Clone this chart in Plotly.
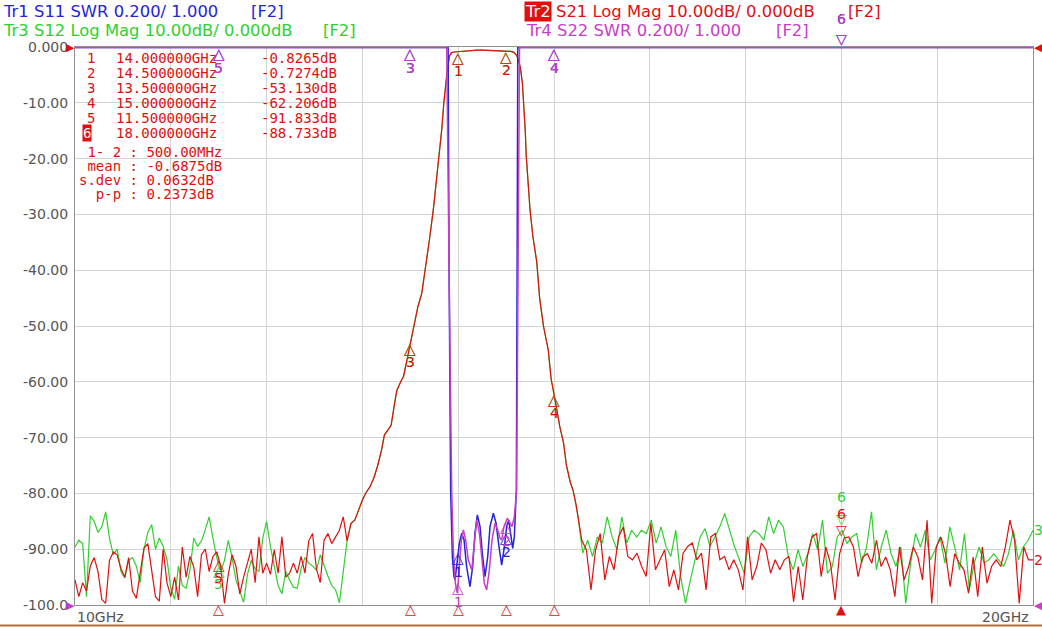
import numpy as np
import plotly.graph_objects as go

# ---- values ----
# noise floor below the passband, 10.00 .. 12.80 GHz (dB)
s21_left = [-95.5, -98.5, -96.0, -97.5, -93.0, -91.5, -94.0, -99.0, -99.7, -92.0,
            -90.5, -91.0, -93.5, -95.0, -91.5, -97.5, -98.8, -94.0, -89.8, -89.0,
            -93.5, -98.5, -99.3, -90.0, -96.0, -98.5, -95.0, -99.1, -89.6, -95.0,
            -91.3, -93.2, -98.5, -91.0, -90.0, -94.0, -91.3, -90.5, -93.0, -99.7,
            -94.5, -91.0, -93.0, -98.0, -95.0, -92.5, -90.0, -96.0, -87.8, -94.3,
            -92.5, -94.5, -90.1, -94.3, -87.8, -95.0, -94.3, -92.5, -94.3, -91.3,
            -94.3, -88.5, -87.2, -93.5, -96.0, -88.4, -87.2, -89.0, -87.8, -86.6,
            -84.2]
s12_left = [-89.6, -88.4, -89.0, -98.5, -84.0, -85.0, -87.0, -86.0, -83.3, -88.0,
            -91.0, -90.0, -94.0, -95.2, -92.0, -91.5, -93.0, -96.0, -90.0, -87.0,
            -85.6, -90.0, -88.0, -89.5, -91.8, -97.0, -99.0, -93.0, -96.5, -97.0,
            -93.7, -88.0, -89.5, -88.5, -86.5, -84.2, -88.0, -91.5, -94.0, -92.0,
            -88.4, -91.5, -95.5, -97.5, -99.5, -94.5, -92.0, -93.5, -94.0, -88.0,
            -85.0, -89.5, -93.0, -96.5, -98.0, -94.0, -95.5, -96.8, -97.0, -93.5,
            -91.5, -92.5, -93.0, -93.8, -91.0, -93.0, -94.8, -96.5, -97.3, -99.6,
            -94.0]

# filter skirts and passband (S21 and S12 lie on top of each other)
skirt_ghz = [12.84, 12.88, 12.92, 12.96, 13.00, 13.04, 13.08, 13.12, 13.16, 13.20,
             13.23, 13.26, 13.30, 13.33, 13.36, 13.40, 13.43, 13.46, 13.50, 13.54,
             13.58, 13.62, 13.66, 13.70, 13.74, 13.77, 13.80, 13.83, 13.85, 13.87,
             13.89, 13.91, 13.93, 13.96, 14.00, 14.05, 14.10, 14.15, 14.20, 14.25,
             14.30, 14.35, 14.40, 14.45, 14.50, 14.55, 14.58, 14.61, 14.63, 14.65,
             14.67, 14.69, 14.70, 14.71, 14.73, 14.75, 14.78, 14.82, 14.85, 14.89,
             14.94, 14.97, 15.00, 15.03, 15.06, 15.10, 15.13, 15.17, 15.20, 15.23,
             15.25]
skirt_db = [-88.5, -85.4, -84.8, -83.0, -81.2, -79.8, -78.8, -77.2, -75.0, -72.2,
            -69.5, -68.8, -67.8, -64.5, -61.5, -60.0, -59.0, -56.5, -53.1, -49.5,
            -46.5, -44.1, -39.5, -34.5, -29.2, -24.5, -19.5, -14.5, -10.0, -6.0,
            -3.5, -1.6, -1.0, -0.9, -0.83, -0.75, -0.66, -0.60, -0.57, -0.55,
            -0.58, -0.62, -0.65, -0.69, -0.73, -0.80, -0.95, -1.5, -2.4, -3.8,
            -6.5, -11.0, -15.0, -19.5, -25.0, -29.2, -34.0, -38.5, -45.0, -50.0,
            -54.3, -59.5, -62.2, -65.5, -68.0, -71.0, -75.0, -78.0, -79.5, -82.0,
            -84.0]

# noise floor above the passband, 15.29 .. 20.00 GHz (dB)
s21_right = [-88.4, -90.1, -97.3, -90.1, -87.2, -95.5, -91.3, -93.7, -87.8, -86.0,
             -91.3, -91.9, -90.7, -93.1, -94.9, -85.4, -93.7, -91.9, -90.1, -96.7,
             -93.7, -97.3, -90.7, -89.5, -88.9, -91.9, -90.7, -97.3, -87.8, -87.2,
             -91.9, -91.3, -93.7, -91.9, -93.7, -97.3, -87.8, -95.5, -93.1, -88.9,
             -90.1, -94.3, -91.9, -93.7, -91.9, -91.3, -99.4, -93.1, -99.1, -91.3,
             -87.8, -87.2, -94.9, -89.6, -92.5, -99.1, -90.8, -88.0, -87.8, -89.6,
             -94.9, -91.4, -90.8, -92.5, -88.4, -93.1, -91.4, -93.7, -98.5, -89.6,
             -95.5, -93.1, -89.6, -91.4, -95.5, -84.8, -99.7, -89.6, -87.8, -90.8,
             -96.7, -90.8, -92.5, -93.7, -97.9, -91.4, -98.5, -89.6, -96.1, -93.1,
             -91.9, -93.1, -89.6, -84.8, -88.4, -99.7, -89.6, -91.9, -91.9]
s12_right = [-90.7, -88.4, -91.3, -87.8, -88.9, -84.2, -87.8, -90.1, -84.2, -88.9,
             -86.6, -87.8, -86.6, -87.2, -84.8, -88.9, -86.0, -89.5, -91.3, -86.6,
             -94.9, -99.7, -95.5, -91.9, -87.8, -86.3, -89.5, -87.8, -86.0, -83.6,
             -86.6, -89.5, -91.9, -94.3, -87.8, -86.6, -87.2, -88.4, -84.2, -87.2,
             -84.8, -86.0, -91.3, -93.7, -90.1, -93.1, -90.7, -87.2, -90.1, -84.8,
             -94.3, -93.1, -87.8, -86.6, -89.0, -87.8, -87.2, -92.5, -89.6, -83.3,
             -93.7, -89.6, -86.6, -90.8, -93.1, -89.6, -99.7, -92.5, -87.2, -89.6,
             -86.6, -91.9, -90.2, -87.8, -92.5, -86.0, -89.6, -93.7, -87.2, -97.3,
             -92.5, -89.6, -92.5, -91.9, -90.8, -91.9, -93.1, -90.8, -86.6, -91.9,
             -89.6, -88.4, -86.6]

# return loss traces as SWR, held at the top of the screen where off scale
s11_ghz = [10.0, 13.895, 13.905, 13.921, 13.939, 13.956, 13.967, 13.984, 14.012, 14.036,
           14.061, 14.088, 14.123, 14.151, 14.175, 14.200, 14.228, 14.252, 14.280, 14.308,
           14.332, 14.367, 14.395, 14.426, 14.454, 14.482, 14.506, 14.527, 14.548, 14.569,
           14.586, 14.600, 14.607, 14.615, 14.622, 20.0]
s11_swr = [2.998, 2.998, 2.2, 1.412, 1.173, 1.102, 1.090, 1.149, 1.221, 1.257,
           1.233, 1.137, 1.066, 1.137, 1.257, 1.323, 1.281, 1.185, 1.102, 1.173,
           1.281, 1.329, 1.293, 1.209, 1.143, 1.209, 1.281, 1.305, 1.257, 1.203,
           1.245, 1.341, 1.412, 2.2, 2.998, 2.998]
s22_ghz = [10.0, 13.88, 13.905, 13.932, 13.949, 13.970, 13.991, 14.012, 14.033, 14.054,
           14.078, 14.106, 14.141, 14.165, 14.193, 14.221, 14.248, 14.273, 14.297, 14.325,
           14.353, 14.384, 14.412, 14.436, 14.454, 14.478, 14.513, 14.541, 14.562, 14.586,
           14.610, 14.625, 14.64, 20.0]
s22_swr = [2.998, 2.998, 2.2, 1.412, 1.197, 1.078, 1.042, 1.137, 1.233, 1.269,
           1.233, 1.161, 1.125, 1.209, 1.305, 1.257, 1.149, 1.078, 1.054, 1.125,
           1.233, 1.293, 1.269, 1.239, 1.233, 1.281, 1.311, 1.293, 1.281, 1.317,
           1.412, 2.2, 2.998, 2.998]

# marker table
mk_num = ['1', '2', '3', '4', '5', '6']
mk_ghz = [14.0, 14.5, 13.5, 15.0, 11.5, 18.0]
mk_freq_txt = ['14.000000GHz', '14.500000GHz', '13.500000GHz',
               '15.000000GHz', '11.500000GHz', '18.000000GHz']
mk_db = [-0.8265, -0.7274, -53.130, -62.206, -91.833, -88.733]
mk_db_txt = ['-0.8265dB', '-0.7274dB', '-53.130dB', '-62.206dB', '-91.833dB', '-88.733dB']
stats_txt = [' 1- 2 : 500.00MHz', ' mean : -0.6875dB', 's.dev : 0.0632dB', '  p-p : 0.2373dB']

y_ticks = [0, -10, -20, -30, -40, -50, -60, -70, -80, -90, -100]
y_ticktext = ['0.000', '-10.00', '-20.00', '-30.00', '-40.00', '-50.00',
              '-60.00', '-70.00', '-80.00', '-90.00', '-100.0']

BLUE = '#2424d8'
GREEN = '#30d030'
RED = '#e01010'
MAG = '#c83cc8'
GRAY = '#555555'
SANS = 'DejaVu Sans'
MONO = 'DejaVu Sans Mono'

f_left = np.linspace(10.0, 12.80, len(s21_left))
f12_left = np.linspace(10.0, 12.80, len(s12_left))
f_right = np.linspace(15.29, 20.0, len(s21_right))
f12_right = np.linspace(15.30, 20.0, len(s12_right))

s21_f = np.concatenate([f_left, skirt_ghz, f_right])
s21_db = np.concatenate([s21_left, skirt_db, s21_right])
s12_f = np.concatenate([f12_left, skirt_ghz, f12_right])
s12_db = np.concatenate([s12_left, skirt_db, s12_right])

fig = go.Figure()
fig.add_trace(go.Scatter(x=s12_f, y=s12_db, mode='lines', line=dict(color=GREEN, width=1.2)))
fig.add_trace(go.Scatter(x=s21_f, y=s21_db, mode='lines', line=dict(color=RED, width=1.2)))
fig.add_trace(go.Scatter(x=s11_ghz, y=s11_swr, yaxis='y2', mode='lines',
                         line=dict(color=BLUE, width=1.5)))
fig.add_trace(go.Scatter(x=s22_ghz, y=s22_swr, yaxis='y2', mode='lines',
                         line=dict(color=MAG, width=1.5)))


def px(x, y, text, color, size=16.4, family=SANS, xanchor='left', **kw):
    # place a label by screen pixel (plot area is 75..1033 x 47..605)
    return dict(xref='paper', yref='paper', x=(x - 75) / 958, y=(605 - y) / 558,
                text=text, showarrow=False, xanchor=xanchor, yanchor='middle',
                font=dict(family=family, size=size, color=color), **kw)


def tag(f, v, text, color, yshift, yref='y', size=14):
    return dict(xref='x', yref=yref, x=f, y=v, text=text, showarrow=False,
                xanchor='center', yanchor='middle', yshift=yshift,
                font=dict(family=SANS, size=size, color=color))


ann = [
    px(1, 12, 'Tr1 S11 SWR 0.200/ 1.000', BLUE),
    px(249, 12, '[F2]', BLUE),
    px(1, 31, 'Tr3 S12 Log Mag 10.00dB/ 0.000dB', GREEN),
    px(321, 31, '[F2]', GREEN),
    px(524, 12, 'Tr2', 'white', bgcolor=RED, borderpad=0),
    px(554, 12, 'S21 Log Mag 10.00dB/ 0.000dB', RED),
    px(846, 12, '[F2]', RED),
    px(524, 31, 'Tr4 S22 SWR 0.200/ 1.000', MAG),
    px(774, 31, '[F2]', MAG),
    px(75, 617, '10GHz', GRAY, size=14),
    px(1031, 617, '20GHz', GRAY, size=14, xanchor='right'),
    px(70, 47, '▶', RED, size=11, xanchor='center'),
    px(70, 605, '▶', MAG, size=11, xanchor='center'),
    px(1038, 47, '◀', RED, size=11, xanchor='center'),
    px(1038, 605, '◀', MAG, size=11, xanchor='center'),
]

# marker table in the upper left corner
for i, n in enumerate(mk_num):
    y = 58 + 15 * i
    if n == '6':
        ann.append(px(82, y, n, 'white', size=14, family=MONO, bgcolor=RED, borderpad=0))
    else:
        ann.append(px(85, y, n, RED, size=14, family=MONO))
    ann.append(px(114, y, mk_freq_txt[i], RED, size=14, family=MONO))
    ann.append(px(259, y, mk_db_txt[i], RED, size=14, family=MONO))
for i, s in enumerate(stats_txt):
    ann.append(px(77, 152 + 14 * i, s.replace(' ', '\u00a0'), RED, size=14, family=MONO))

# trace markers: triangle under the point with its number, active one (6) above
for n, f, v in zip(mk_num, mk_ghz, mk_db):
    g = float(np.interp(f, s12_f, s12_db))
    if n == '6':
        ann.append(tag(f, g, '▽', GREEN, 12, size=14))
        ann.append(tag(f, g, n, GREEN, 34))
        ann.append(tag(f, v, '▽', RED, 12, size=14))
        ann.append(tag(f, v, n, RED, 28))
        ann.append(tag(f, -100, '▲', RED, -4, size=13))
    else:
        ann.append(tag(f, g, '△', GREEN, -6, size=15))
        ann.append(tag(f, g, n, GREEN, -19))
        ann.append(tag(f, v, '△', RED, -6, size=15))
        ann.append(tag(f, v, n, RED, -19))
        ann.append(tag(f, -100, '△', RED, -4, size=14))
    for swr_f, swr_v, col in ((s11_ghz, s11_swr, BLUE), (s22_ghz, s22_swr, MAG)):
        w = float(np.interp(f, swr_f, swr_v))
        if n == '6':
            ann.append(tag(f, w, '▽', col, 9, yref='y2', size=14))
            ann.append(tag(f, w, n, col, 29, yref='y2'))
        else:
            ann.append(tag(f, w, '△', col, -6, yref='y2', size=15))
            ann.append(tag(f, w, n, col, -20, yref='y2'))

# trace numbers at the right end
ann.append(dict(xref='paper', yref='y', x=1, y=s12_db[-1], xshift=5, text='3', showarrow=False,
                xanchor='center', font=dict(family=SANS, size=14, color=GREEN)))
ann.append(dict(xref='paper', yref='y', x=1, y=s21_db[-1], xshift=5, text='2', showarrow=False,
                xanchor='center', font=dict(family=SANS, size=14, color=RED)))

fig.update_layout(
    width=1042, height=627,
    margin=dict(l=75, r=9, t=47, b=22),
    paper_bgcolor='white', plot_bgcolor='white',
    showlegend=False,
    annotations=ann,
    shapes=[dict(type='line', xref='paper', yref='paper', x0=-75 / 958, x1=967 / 958,
                 y0=-20.5 / 558, y1=-20.5 / 558, line=dict(color='#b07040', width=2))],
    xaxis=dict(range=[10, 20], tickvals=list(range(10, 21)), showticklabels=False,
               ticks='', gridcolor='#d4d4d4', gridwidth=1, zeroline=False,
               showline=True, linecolor='#909090', linewidth=1, mirror=True,
               layer='below traces'),
    yaxis=dict(range=[-100, 0], tickvals=y_ticks, ticktext=y_ticktext, ticks='',
               tickfont=dict(family=SANS, size=14, color=GRAY), ticklabelstandoff=3,
               gridcolor='#d4d4d4', gridwidth=1, zeroline=False,
               showline=True, linecolor='#909090', linewidth=1, mirror=True,
               layer='below traces'),
    yaxis2=dict(range=[1, 3], overlaying='y', showgrid=False, zeroline=False,
                showticklabels=False, ticks='', showline=False),
)

# the page body has an 8px default margin; drop it so the figure sits at the corner
fig.write_html('out.html', config={'displayModeBar': False},
               post_script="document.body.style.margin='0';")
